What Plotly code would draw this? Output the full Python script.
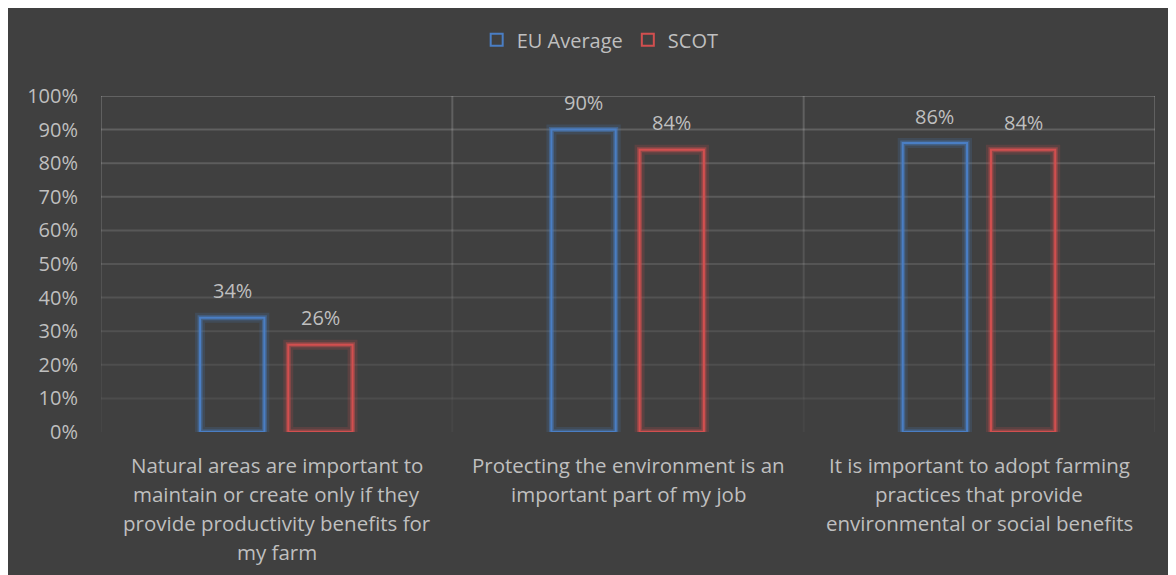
import plotly.graph_objects as go

categories = [
    "Natural areas are important to maintain or create only if they provide productivity benefits for my farm",
    "Protecting the environment is an important part of my job",
    "It is important to adopt farming practices that provide environmental or social benefits",
]
category_lines = [
    ["Natural areas are important to", "maintain or create only if they", "provide productivity benefits for", "my farm"],
    ["Protecting the environment is an", "important part of my job"],
    ["It is important to adopt farming", "practices that provide", "environmental or social benefits"],
]
eu_average = [0.34, 0.90, 0.86]
scot = [0.26, 0.84, 0.84]
y_ticks = [0, 0.1, 0.2, 0.3, 0.4, 0.5, 0.6, 0.7, 0.8, 0.9, 1.0]

BG = "#404040"
TXT = "#bfbfbf"
BLUE = "#4a7ec4"
RED = "#d24f4f"
FONT = "Open Sans"

x_idx = list(range(len(categories)))
fig = go.Figure()

series = [
    ("EU Average", eu_average, BLUE, "rgba(74,126,196,0.45)", -0.218),
    ("SCOT", scot, RED, "rgba(210,79,79,0.45)", 0.033),
]
W = 0.183
for name, vals, col, glow, off in series:
    # soft glow
    fig.add_trace(go.Bar(
        x=x_idx, y=vals, offset=off, width=W, name=name, showlegend=False,
        marker=dict(color="rgba(0,0,0,0)", line=dict(color=glow.replace("0.45", "0.18"), width=10)),
        hoverinfo="skip",
    ))
    fig.add_trace(go.Bar(
        x=x_idx, y=vals, offset=off, width=W, name=name, showlegend=False,
        marker=dict(color="rgba(0,0,0,0)", line=dict(color=glow, width=5)),
        hoverinfo="skip",
    ))
for name, vals, col, glow, off in series:
    fig.add_trace(go.Bar(
        x=x_idx, y=vals, offset=off, width=W, name=name,
        marker=dict(color="rgba(0,0,0,0)", line=dict(color=col, width=2)),
    ))

shapes = []
for t in y_ticks[1:]:
    a = 0.05 + 0.13 * t
    shapes.append(dict(type="line", xref="x", yref="y", x0=-0.5, x1=2.5, y0=t, y1=t,
                       line=dict(color=f"rgba(255,255,255,{a:.3f})", width=2), layer="below"))
for b in [-0.5, 0.5, 1.5, 2.5]:
    for i in range(10):
        y0 = y_ticks[i]
        y1 = y_ticks[i + 1]
        a = 0.02 + 0.15 * y1
        shapes.append(dict(type="line", xref="x", yref="y", x0=b, x1=b, y0=y0, y1=y1,
                           line=dict(color=f"rgba(255,255,255,{a:.3f})", width=2), layer="below"))

annotations = []
# value labels above bars
for name, vals, col, glow, off in series:
    for i, v in enumerate(vals):
        annotations.append(dict(x=i + off + W / 2, y=v, xref="x", yref="y",
                                text=f"{round(v*100)}%", showarrow=False,
                                yanchor="middle", yshift=27,
                                font=dict(color=TXT, size=20, family=FONT)))
# category labels
for i, lines in enumerate(category_lines):
    for j, line in enumerate(lines):
        annotations.append(dict(x=i, y=0, xref="x", yref="y", text=line, showarrow=False,
                                yanchor="middle", yshift=-33 - 29 * j,
                                font=dict(color=TXT, size=20.5, family=FONT)))

fig.update_layout(
    width=1168, height=567,
    paper_bgcolor=BG, plot_bgcolor=BG,
    margin=dict(l=93, r=21, t=88, b=143, autoexpand=False),
    barmode="overlay",
    font=dict(family=FONT, color=TXT, size=20),
    showlegend=True,
    legend=dict(orientation="h", x=0.507, xanchor="center", xref="container",
                y=0.944, yanchor="middle", yref="container",
                font=dict(color=TXT, size=20, family=FONT),
                bgcolor="rgba(0,0,0,0)", traceorder="normal", itemwidth=30),
    xaxis=dict(range=[-0.5, 2.5], tickvals=x_idx, showticklabels=False, showgrid=False,
               zeroline=False, showline=False, fixedrange=True),
    yaxis=dict(range=[0, 1], tickvals=y_ticks, tickformat=".0%", showgrid=False,
               zeroline=False, showline=False, ticks="", ticklabelstandoff=22,
               tickfont=dict(color=TXT, size=20, family=FONT)),
    shapes=shapes,
    annotations=annotations,
)

fig.write_html("out.html")
